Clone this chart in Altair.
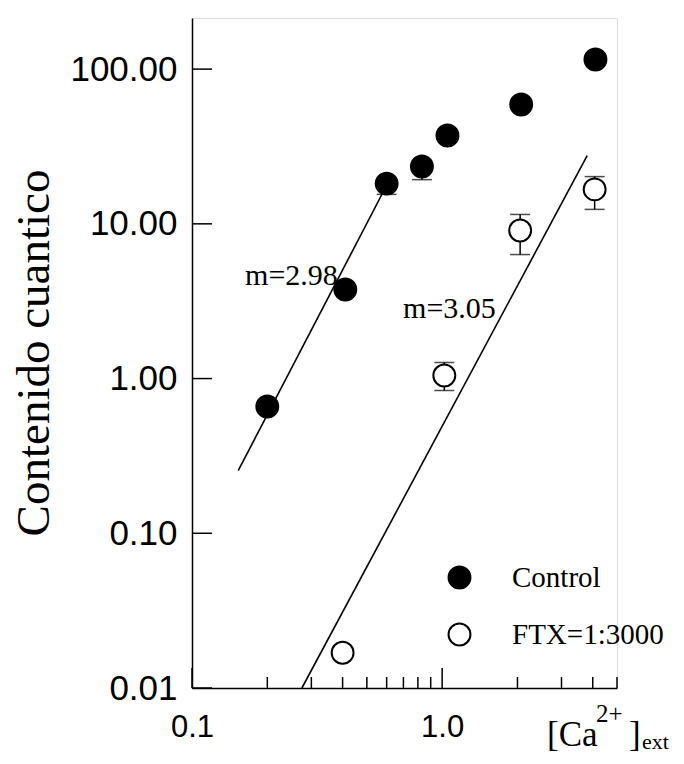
import altair as alt
import pandas as pd

# ---------------- data ----------------
ctrl_x = [0.2, 0.41, 0.6, 0.83, 1.05, 2.07, 4.1]
ctrl_y = [0.66, 3.76, 18.2, 23.5, 37.2, 59.0, 115.4]
ctrl_err_x = [0.6, 0.83]
ctrl_err_lo = [15.5, 19.3]
ctrl_err_hi = [18.2, 23.5]

ftx_x = [0.4, 1.02, 2.05, 4.07]
ftx_y = [0.0169, 1.046, 9.05, 16.7]
ftx_err_x = [1.02, 2.05, 4.07]
ftx_err_lo = [0.836, 6.33, 12.4]
ftx_err_hi = [1.27, 11.5, 20.2]

fit_ctrl_x = [0.153, 0.608]
fit_ctrl_y = [0.254, 18.5]
fit_ftx_x = [0.275, 3.80]
fit_ftx_y = [0.01, 27.6]

series_names = ["Control", "FTX=1:3000"]
y_ticks = [0.01, 0.1, 1, 10, 100]
x_major = [0.1, 1.0]
x_minor = [0.2, 0.3, 0.4, 0.5, 0.6, 0.7, 0.8, 0.9, 2, 3, 4, 5]

ann_text = ["m=2.98", "m=3.05"]
ann_x = [0.163, 0.698]
ann_y = [4.05, 2.48]

# ---------------- tables ----------------
points = pd.DataFrame({
    "x": ctrl_x + ftx_x,
    "y": ctrl_y + ftx_y,
    "series": [series_names[0]] * len(ctrl_x) + [series_names[1]] * len(ftx_x),
})
errs = pd.DataFrame({
    "x": ctrl_err_x + ftx_err_x,
    "lo": ctrl_err_lo + ftx_err_lo,
    "hi": ctrl_err_hi + ftx_err_hi,
})
caps = pd.DataFrame({
    "x": ctrl_err_x + ftx_err_x + ftx_err_x,
    "y": ctrl_err_lo + ftx_err_lo + ftx_err_hi,
})
fits = pd.DataFrame({
    "x": fit_ctrl_x + fit_ftx_x,
    "y": fit_ctrl_y + fit_ftx_y,
    "fit": ["c", "c", "f", "f"],
})
ann = pd.DataFrame({"x": ann_x, "y": ann_y, "t": ann_text})

W, H = 425, 670
xs = alt.Scale(type="log", domain=[0.1, 5], nice=False)
ys = alt.Scale(type="log", domain=[0.01, 214], nice=False)
xaxis = alt.Axis(values=x_major, format=".1f", title=None, ticks=False, grid=False,
                 labelFlush=False, labelOverlap=False,
                 labelFont="Liberation Sans", labelFontSize=31, labelPadding=24,
                 domainColor="black", domainWidth=1.5, labelColor="black")
yaxis = alt.Axis(values=y_ticks, format=".2f", title=None, ticks=False, grid=False,
                 labelFlush=False, labelOverlap=False,
                 labelFont="Liberation Sans", labelFontSize=35, labelPadding=15,
                 domainColor="black", domainWidth=1.5, labelColor="black")


def X(f):
    return alt.X(f, type="quantitative", scale=xs, axis=xaxis)


def Y(f):
    return alt.Y(f, type="quantitative", scale=ys, axis=yaxis)


fit_layer = alt.Chart(fits).mark_line(color="black", strokeWidth=1.6).encode(
    x=X("x"), y=Y("y"), detail="fit:N")

err_layer = alt.Chart(errs).mark_rule(color="black", strokeWidth=1.5).encode(
    x=X("x"), y=Y("lo"), y2="hi")

cap_layer = alt.Chart(caps).mark_tick(color="black", orient="horizontal", size=20,
                                      thickness=1.5).encode(x=X("x"), y=Y("y"))

pt_layer = alt.Chart(points).mark_point(shape="circle", filled=True, size=480,
                                        strokeWidth=2, opacity=1).encode(
    x=X("x"), y=Y("y"),
    fill=alt.Fill("series:N",
                  scale=alt.Scale(domain=series_names, range=["black", "white"]),
                  sort=series_names,
                  legend=alt.Legend(title=None, orient="none", legendX=253, legendY=545,
                                    symbolType="circle", symbolSize=480,
                                    symbolStrokeColor="black", symbolStrokeWidth=2,
                                    labelFont="Liberation Serif", labelFontSize=29,
                                    labelColor="black", labelOffset=38, rowPadding=26,
                                    padding=0)),
    stroke=alt.value("black"),
)

ann_layer = alt.Chart(ann).mark_text(font="Liberation Serif", fontSize=30, align="left",
                                     baseline="alphabetic", color="black").encode(
    x=X("x"), y=Y("y"), text="t:N")

ytick_layer = alt.Chart(pd.DataFrame({"v": y_ticks})).mark_rule(
    color="black", strokeWidth=1.5).encode(y=Y("v"), x=alt.value(0), x2=alt.value(20))
xmaj_layer = alt.Chart(pd.DataFrame({"v": x_major})).mark_rule(
    color="black", strokeWidth=1.5).encode(x=X("v"), y=alt.value(H), y2=alt.value(H - 20))
xmin_layer = alt.Chart(pd.DataFrame({"v": x_minor})).mark_rule(
    color="black", strokeWidth=1.5).encode(x=X("v"), y=alt.value(H), y2=alt.value(H - 11))

ytitle = alt.Chart(pd.DataFrame({"t": ["Contenido cuantico"]})).mark_text(
    font="Liberation Serif", fontSize=47, angle=270, align="center", baseline="middle",
    color="black").encode(text="t:N", x=alt.value(-157), y=alt.value(335))


def piece(txt, px, py, size):
    return alt.Chart(pd.DataFrame({"t": [txt]})).mark_text(
        font="Liberation Serif", fontSize=size, align="left", baseline="alphabetic",
        color="black").encode(text="t:N", x=alt.value(px), y=alt.value(py))


xtitle = [piece("[Ca", 355, 728, 35), piece("2+", 404, 704, 25),
          piece("]", 437, 728, 35), piece("ext", 450, 731, 22)]

chart = alt.layer(fit_layer, err_layer, cap_layer, pt_layer, ann_layer,
                  ytick_layer, xmaj_layer, xmin_layer, ytitle, *xtitle).properties(
    width=W, height=H,
    autosize=alt.AutoSizeParams(type="none"),
    padding={"left": 184, "top": 10, "right": 58, "bottom": 68},
).configure_view(stroke=None).configure(background="white")

chart.save("out.html", embed_options={"renderer": "svg", "actions": False})
